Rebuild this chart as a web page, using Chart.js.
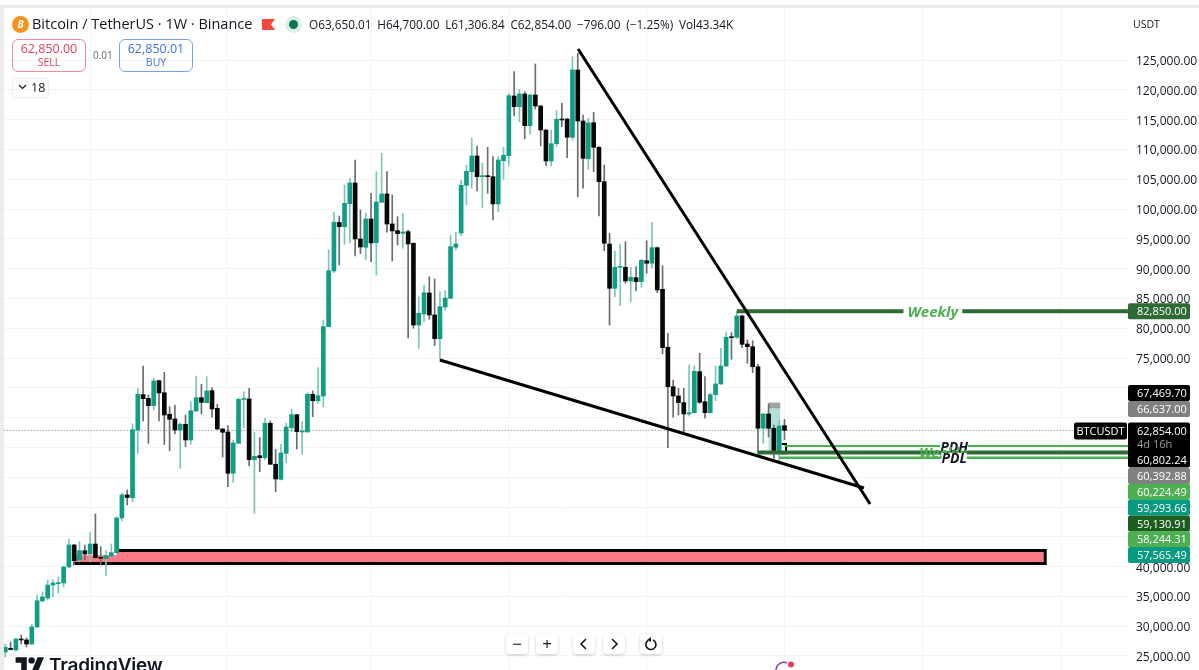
<!DOCTYPE html>
<html>
<head>
<meta charset="utf-8">
<title>BTCUSDT 1W</title>
<script src="https://cdn.jsdelivr.net/npm/chart.js@4/dist/chart.umd.min.js"></script>
<style>
  html, body { margin: 0; padding: 0; background: #fff; overflow: hidden; }
  body { width: 1199px; height: 670px; position: relative; font-family: "Open Sans", sans-serif; color: #131722; }
  canvas { position: absolute; left: 0; top: 0; }
  .abs { position: absolute; white-space: nowrap; }
  .edge-top { left: 0; top: 5px; width: 1199px; height: 3px; background: #ececec; }
  .edge-left { left: 0; top: 5px; width: 4px; height: 665px; background: #ececec; }
  .title { left: 32px; top: 14px; font-size: 14.5px; line-height: 20px; }
  .ohlc { left: 309px; top: 15px; font-size: 11.8px; line-height: 18px; word-spacing: 2.7px; }
  .coin { left: 12px; top: 16px; width: 17px; height: 17px; border-radius: 50%; background: #f7931a; color: #fff; font: bold italic 10px/17px "Open Sans", sans-serif; text-align: center; }
  .dot-out { left: 285px; top: 16px; width: 17px; height: 17px; border-radius: 50%; background: #dcefe9; }
  .dot-in { left: 289px; top: 20px; width: 9px; height: 9px; border-radius: 50%; background: #0b7358; }
  .trade { top: 39px; width: 72px; height: 30px; border-radius: 6px; border: 1px solid; text-align: center; font-size: 12.5px; line-height: 15px; padding-top: 1px; box-sizing: content-box; }
  .trade small { display: block; font-size: 10.5px; line-height: 13px; }
  .sell { left: 12px; border-color: #ee8a9b; color: #e2405c; }
  .buy { left: 119px; border-color: #7a9fee; color: #3f6fe6; }
  .spread { left: 93px; top: 47px; font-size: 10px; line-height: 16px; color: #666; }
  .collapse { left: 12px; top: 78px; width: 35px; height: 18px; border: 1px solid #efefef; border-radius: 3px; font-size: 12.5px; line-height: 18px; text-indent: 18px; }
  .unit { left: 1133px; top: 16px; font-size: 10.5px; line-height: 16px; }
  .btn { top: 634px; width: 22px; height: 20px; background: #fff; border-radius: 4px; box-shadow: 0 1px 3px rgba(0,0,0,.22); text-align: center; font-size: 17px; line-height: 20px; }
  .btn svg { display: block; margin: 3px auto 0; }
  .brand { left: 49px; top: 654px; font: 600 19px/24px Inter, sans-serif; letter-spacing: -.2px; color: #131722; }
</style>
</head>
<body>
<canvas id="priceChart" width="1199" height="670"></canvas>

<div class="abs edge-top"></div>
<div class="abs edge-left"></div>

<div class="abs coin">B</div>
<div class="abs title">Bitcoin / TetherUS · 1W · Binance</div>
<svg class="abs" style="left:262px;top:19px" width="13" height="11"><path d="M0 0H13L9 5.5 13 11H0Z" fill="#f4453f"/></svg>
<div class="abs dot-out"></div>
<div class="abs dot-in"></div>
<div class="abs ohlc">O63,650.01 H64,700.00 L61,306.84 C62,854.00 −796.00 (−1.25%) Vol43.34K</div>

<div class="abs trade sell">62,850.00<small>SELL</small></div>
<div class="abs spread">0.01</div>
<div class="abs trade buy">62,850.01<small>BUY</small></div>
<div class="abs collapse">18</div>
<svg class="abs" style="left:18px;top:84px" width="9" height="6"><path d="M1 1L4.5 4.5 8 1" fill="none" stroke="#131722" stroke-width="1.2"/></svg>

<div class="abs unit">USDT</div>

<div class="abs btn" style="left:506px">−</div>
<div class="abs btn" style="left:536px">+</div>
<div class="abs btn" style="left:573px"><svg width="12" height="14"><path d="M8 2L3 7l5 5" fill="none" stroke="#131722" stroke-width="1.6"/></svg></div>
<div class="abs btn" style="left:603px"><svg width="12" height="14"><path d="M4 2l5 5-5 5" fill="none" stroke="#131722" stroke-width="1.6"/></svg></div>
<div class="abs btn" style="left:640px"><svg width="14" height="14"><path d="M4 3.5A5 5 0 1 0 9 3" fill="none" stroke="#131722" stroke-width="1.6"/><path d="M7 0v5L3 3z" fill="#131722"/></svg></div>

<svg class="abs" style="left:15px;top:654px" width="30" height="16" viewBox="0 0 36 20"><path d="M14 22H7V11H0V4h14v18zM28 22h-8l7.5-18h8L28 22z" fill="#131722"/><circle cx="20" cy="8" r="4" fill="#131722"/></svg>
<div class="abs brand">TradingView</div>

<svg class="abs" style="left:773px;top:660px" width="24" height="10"><path d="M3 10A8 8 0 0 1 14 3" fill="none" stroke="#8a3fb0" stroke-width="1.5"/><circle cx="18" cy="4.500" r="3" fill="#ee3b4c"/></svg>

<script>
// weekly candles, oldest first
const opens = [25670, 26290, 26010, 27850, 27690, 27010, 29870, 34230, 34730, 36910, 37130, 37250, 39930, 43630, 41110, 42670, 42120, 43790, 41560, 41330, 41780, 42340, 48160, 52020, 51560, 62920, 68850, 68240, 67000, 71200, 69180, 65560, 64770, 62920, 63880, 61250, 66110, 68340, 67510, 69520, 66560, 63090, 62590, 55660, 60690, 68040, 68130, 57940, 58610, 58270, 64050, 57170, 54650, 59010, 63310, 65490, 62590, 62590, 68910, 67840, 68630, 80260, 89600, 97740, 97040, 100900, 104370, 94970, 93580, 98330, 94350, 101130, 102520, 97490, 96370, 95930, 96200, 94250, 80540, 82390, 85910, 82220, 78250, 83560, 85020, 93580, 95980, 103980, 106270, 108900, 105430, 105540, 105430, 100850, 108110, 108950, 118970, 117170, 119300, 113990, 119140, 117290, 113260, 108060, 110960, 115110, 115110, 112040, 123330, 114770, 108450, 114490, 110360, 104590, 94130, 86700, 90220, 90220, 87930, 88480, 87810, 91330, 90900, 93510, 86530, 76800, 70190, 68630, 67510, 65610, 65830, 72710, 67670, 65830, 68850, 70640, 73660, 78580, 78480, 82050, 77350, 76900, 73540, 63210, 65610, 63210, 59280, 63650];
const highs = [27010, 27350, 27940, 28520, 28020, 30370, 35240, 35740, 37750, 37750, 38260, 40100, 44630, 43710, 44180, 43630, 45690, 48830, 43340, 42670, 43790, 48380, 52350, 52860, 63930, 69920, 73660, 68800, 71600, 71310, 72610, 66830, 67120, 64100, 65440, 67670, 71980, 70590, 71870, 70020, 67240, 63210, 63650, 61250, 68340, 69350, 69920, 62540, 61630, 64890, 64430, 59680, 60520, 64050, 66400, 65560, 64320, 69180, 69470, 73380, 81380, 93130, 99500, 98830, 104030, 105160, 108230, 99840, 99340, 102640, 106270, 109350, 106270, 102360, 98720, 99290, 96480, 94300, 85290, 87250, 88650, 88260, 86130, 86300, 95640, 96100, 104870, 107390, 111870, 110580, 107730, 110360, 108780, 108730, 110360, 119420, 123050, 120090, 119690, 119220, 124340, 117370, 113350, 113260, 116500, 117740, 115190, 125560, 126130, 115780, 115230, 116230, 110460, 107390, 95930, 92960, 94080, 94520, 90220, 90330, 91570, 94690, 97780, 93630, 90490, 79150, 71310, 69920, 69920, 73830, 73710, 75790, 71870, 69080, 73660, 76630, 79250, 79250, 82770, 82220, 78030, 77910, 73950, 65690, 67290, 63760, 64600, 64700];
const lows = [24830, 26010, 25840, 27010, 26510, 26950, 29780, 34150, 34400, 34900, 35570, 36580, 39850, 40270, 40770, 41110, 40770, 41450, 40270, 38480, 41660, 42280, 47650, 50340, 50890, 58950, 64430, 60690, 66280, 64430, 60520, 59450, 62300, 56500, 60120, 60520, 66030, 65610, 67460, 65060, 63010, 58390, 53410, 54150, 60660, 63310, 56930, 48940, 55930, 57890, 57130, 52570, 54530, 57440, 62640, 59740, 58850, 62540, 65160, 67400, 66780, 80210, 89320, 90610, 94080, 94300, 92120, 92510, 91450, 91160, 88930, 101100, 96100, 91280, 93970, 93410, 78360, 79990, 76630, 81100, 81500, 77070, 74790, 83060, 84990, 93130, 95480, 100680, 103480, 103030, 100230, 102640, 98160, 99550, 104990, 107220, 115610, 114660, 111800, 112540, 116790, 110580, 107270, 107220, 110460, 113820, 108620, 111590, 102070, 103480, 106670, 106270, 98830, 93010, 80540, 85290, 83780, 87540, 84450, 86300, 86870, 89220, 90060, 85960, 75680, 59950, 65060, 65440, 62640, 65270, 65780, 67400, 64890, 65730, 67840, 70560, 73580, 74790, 78310, 76730, 74120, 72540, 59010, 60690, 61750, 58170, 57770, 61306.84];
const closes = [26460, 26090, 27850, 27690, 27010, 29870, 34280, 34900, 36910, 37250, 37300, 39930, 43630, 40990, 42670, 42120, 43790, 41500, 41400, 41830, 42340, 48160, 52020, 51600, 62970, 68910, 68180, 67000, 71150, 69130, 65440, 64720, 62920, 63880, 61250, 66160, 68340, 67570, 69470, 66450, 63090, 62540, 55660, 60740, 68070, 68180, 57940, 58510, 58270, 64050, 57170, 54700, 59060, 63430, 65490, 62640, 62760, 68910, 67840, 68680, 80260, 89650, 97780, 97040, 100960, 104370, 94970, 93630, 98330, 94300, 101180, 102520, 97490, 96320, 95860, 96150, 94130, 80540, 82510, 85960, 82220, 78250, 83610, 85070, 93680, 94130, 103980, 106330, 108900, 105430, 105590, 105430, 100850, 108230, 109020, 119020, 117170, 119300, 113990, 119140, 117290, 113260, 108060, 110960, 115060, 114940, 112040, 123330, 114770, 108510, 114440, 110360, 104590, 94250, 86700, 90220, 90390, 87930, 88550, 87810, 91400, 90900, 93510, 86420, 76730, 70190, 68630, 67510, 65610, 65830, 72770, 67570, 65830, 68850, 70640, 73660, 78480, 78410, 82050, 77300, 76900, 73540, 63210, 65610, 63210, 59450, 63590, 62854];

// right axis
const priceTicks = [125000, 120000, 115000, 110000, 105000, 100000, 95000, 90000, 85000, 80000, 75000, 70000, 65000, 60000, 55000, 50000, 45000, 40000, 35000, 30000, 25000];
const tagCoveredTicks = [70000, 65000, 60000, 55000, 50000, 45000];
const timeGridTicks = [16, 42, 69, 95, 121, 147, 173, 199];

// drawn trend lines, as candle index and price
const upperLineX = [108.06, 163.15];
const upperLineY = [126860, 50500];
const lowerLineX = [82, 162];
const lowerLineY = [74670, 53190];

// support block, its top edge only starts at zoneStepX
const zoneX = [12.8, 196.2];
const zoneY = [42700, 40520];
const zoneStepX = 21;
const zoneStepY = 41900;

// horizontal levels
const levelNames = ['Weekly', 'PDH', 'Weekly', 'PDL'];
const levelPrices = [82850, 60224.49, 59130.91, 58244.31];
const levelStarts = [138, 147, 142, 146];
const levelColors = ['#2e6b34', '#4caf50', '#2e6b34', '#4caf50'];
const levelWidths = [4, 2, 4, 2.5];
const levelLabelAt = [175, 179, 176.9, 179];
const levelLabelColors = ['#4caf50', '#131722', '#4caf50', '#131722'];

// position tool drawn around the latest candles
const boxX = [145.1];
const boxGrey = [66637, 67469.7];
const boxTeal = [59293.66, 66637];
const bracketX = [146.5, 147.3, 147.3, 146.5];
const bracketY = [60590, 60590, 59000, 59000];

// price tags on the axis
const lastPrice = 62854;
const countdown = '4d 16h';
const symbolName = 'BTCUSDT';
const weeklyTagPrice = 82850;
const upperTagPrices = [67469.70, 66637.00];
const upperTagColors = ['#000000', '#808080'];
const blockLowPrice = 60802.24;
const lowerTagPrices = [60392.88, 60224.49, 59293.66, 59130.91, 58244.31, 57565.49];
const lowerTagColors = ['#808080', '#4caf50', '#089981', '#1b5e20', '#4caf50', '#089981'];

const upColor = '#0f9d83';
const downColor = '#080808';
const upWick = '#7cc6b6';
const downWick = '#6c6c6c';
const isUp = i => closes[i] >= opens[i];
const money = v => v.toLocaleString('en-US', { minimumFractionDigits: 2, maximumFractionDigits: 2 });

function lineSet(xs, ys, color, width, order, dash) {
  return {
    type: 'line',
    data: xs.map((x, i) => ({ x: x, y: ys[i] })),
    borderColor: color,
    borderWidth: width,
    borderDash: dash || [],
    pointRadius: 0,
    tension: 0,
    order: order
  };
}

// Support block sits under the candles
const zonePlugin = {
  id: 'zone',
  beforeDatasetsDraw(chart) {
    const { ctx, scales: { x, y } } = chart;
    const left = x.getPixelForValue(zoneX[0]);
    const right = x.getPixelForValue(zoneX[1]);
    const top = y.getPixelForValue(zoneY[0]);
    const bottom = y.getPixelForValue(zoneY[1]);
    const stepX = x.getPixelForValue(zoneStepX);
    const stepY = y.getPixelForValue(zoneStepY);
    ctx.save();
    ctx.fillStyle = '#f77a86';
    ctx.strokeStyle = '#000';
    ctx.lineWidth = 3;
    ctx.beginPath();
    ctx.moveTo(left, stepY);
    ctx.lineTo(stepX, stepY);
    ctx.lineTo(stepX, top);
    ctx.lineTo(right, top);
    ctx.lineTo(right, bottom);
    ctx.lineTo(left, bottom);
    ctx.closePath();
    ctx.fill();
    ctx.beginPath();
    ctx.moveTo(stepX, top);
    ctx.lineTo(right, top);
    ctx.lineTo(right, bottom);
    ctx.lineTo(left, bottom);
    ctx.stroke();
    ctx.restore();
  }
};

// Level captions, then the stack of price tags over the axis
const labelPlugin = {
  id: 'labels',
  afterDraw(chart) {
    const { ctx, scales: { x, y } } = chart;
    ctx.save();
    ctx.textBaseline = 'middle';

    levelNames.forEach((name, i) => {
      const cx = x.getPixelForValue(levelLabelAt[i]);
      const cy = y.getPixelForValue(levelPrices[i]);
      const big = i === 0;
      ctx.font = 'italic bold ' + (big ? 15 : 14) + 'px "Open Sans", sans-serif';
      const w = ctx.measureText(name).width;
      ctx.fillStyle = '#fff';
      if (big) ctx.fillRect(cx - w / 2 - 4, cy - 4, w + 8, 8);
      if (name !== 'Weekly') ctx.fillRect(cx - w / 2, cy - 5, w, 10);
      ctx.fillStyle = levelLabelColors[i];
      ctx.textAlign = 'center';
      ctx.fillText(name, cx, cy + 1.5);
    });

    const tag = (top, h, color) => {
      ctx.fillStyle = color;
      ctx.beginPath();
      ctx.roundRect(1128, top, 62, h, 2);
      ctx.fill();
    };
    const text = (str, cy, color) => {
      ctx.fillStyle = color;
      ctx.textAlign = 'left';
      ctx.font = '11px "Open Sans", sans-serif';
      ctx.fillText(str, 1137, cy + 1);
    };

    const weeklyY = y.getPixelForValue(weeklyTagPrice);
    tag(weeklyY - 8, 16, '#2e6b34');
    text(money(weeklyTagPrice), weeklyY, '#fff');

    upperTagPrices.forEach((p, i) => {
      const cy = 393 + i * 16;
      tag(cy - 8, 16, upperTagColors[i]);
      text(money(p), cy, '#fff');
    });

    const lastY = y.getPixelForValue(lastPrice);
    tag(lastY - 8, 45, '#000');
    text(money(lastPrice), lastY, '#fff');
    text(countdown, lastY + 13, '#9a9a9a');
    text(money(blockLowPrice), lastY + 29, '#fff');

    ctx.fillStyle = '#000';
    ctx.beginPath();
    ctx.roundRect(1074, lastY - 8, 53, 17, 2);
    ctx.fill();
    ctx.fillStyle = '#fff';
    ctx.textAlign = 'center';
    ctx.font = '11px "Open Sans", sans-serif';
    ctx.fillText(symbolName, 1100.5, lastY + 1.5);

    lowerTagPrices.forEach((p, i) => {
      const cy = 476 + i * 15.8;
      tag(cy - 8, 16, lowerTagColors[i]);
      text(money(p), cy, '#fff');
    });
    ctx.restore();
  }
};

const indexes = opens.map((_, i) => i);

new Chart(document.getElementById('priceChart').getContext('2d'), {
  data: {
    datasets: [
      {
        type: 'bar',
        data: indexes.map(i => ({ x: i, y: [lows[i], highs[i]] })),
        backgroundColor: indexes.map(i => isUp(i) ? upWick : downWick),
        barThickness: 1,
        grouped: false,
        order: 6
      },
      {
        type: 'bar',
        data: indexes.map(i => ({ x: i, y: [opens[i], closes[i]] })),
        backgroundColor: indexes.map(i => isUp(i) ? upColor : downColor),
        barThickness: 4,
        minBarLength: 1,
        grouped: false,
        order: 5
      },
      {
        type: 'bar',
        data: boxX.map(v => ({ x: v, y: boxTeal })),
        backgroundColor: 'rgba(8,153,129,0.3)',
        barThickness: 11,
        grouped: false,
        order: 7
      },
      {
        type: 'bar',
        data: boxX.map(v => ({ x: v, y: boxGrey })),
        backgroundColor: '#a3a3a3',
        barThickness: 11,
        grouped: false,
        order: 7
      },
      lineSet([-0.3, 202], [lastPrice, lastPrice], '#777777', 1, 8, [1, 2]),
      lineSet(bracketX, bracketY, '#000000', 2, 4),
      ...levelNames.map((_, i) => lineSet([levelStarts[i], 211.8], [levelPrices[i], levelPrices[i]], levelColors[i], levelWidths[i], 3)),
      lineSet(upperLineX, upperLineY, '#000000', 3, 1),
      lineSet(lowerLineX, lowerLineY, '#000000', 3, 1)
    ]
  },
  options: {
    responsive: false,
    animation: false,
    layout: { padding: { top: 8 } },
    plugins: { legend: { display: false }, tooltip: { enabled: false } },
    scales: {
      x: {
        type: 'linear',
        min: -1,
        max: 212,
        offset: false,
        // no labels on this axis, so it takes no room in the layout
        afterFit: axis => { axis.height = 0; axis.paddingLeft = 0; axis.paddingRight = 0; },
        afterBuildTicks: axis => { axis.ticks = timeGridTicks.map(v => ({ value: v })); },
        ticks: { display: false },
        grid: { color: '#f4f4f4', drawTicks: false, offset: false },
        border: { display: false }
      },
      y: {
        position: 'right',
        min: 22650,
        max: 133730,
        afterFit: axis => { axis.width = 70; axis.paddingTop = 0; axis.paddingBottom = 0; },
        afterBuildTicks: axis => { axis.ticks = priceTicks.map(v => ({ value: v })); },
        ticks: {
          padding: 7,
          autoSkip: false,
          color: '#131722',
          // empty first line nudges the text down to sit on its grid line
          font: { family: '"Open Sans", sans-serif', size: 12, lineHeight: '3px' },
          callback: v => tagCoveredTicks.includes(v) ? '' : ['', money(v)]
        },
        grid: { color: '#f4f4f4', drawTicks: false },
        border: { display: false }
      }
    }
  },
  plugins: [zonePlugin, labelPlugin]
});
</script>
</body>
</html>
